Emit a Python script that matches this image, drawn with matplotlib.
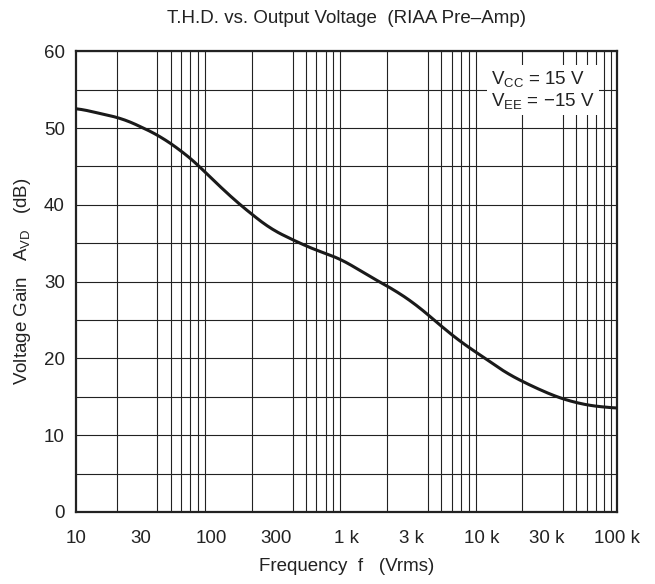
import numpy as np
import matplotlib.pyplot as plt
from matplotlib.ticker import FixedLocator, NullFormatter

plt.rcParams['font.family'] = ['Liberation Sans', 'DejaVu Sans']
plt.rcParams['mathtext.default'] = 'regular'

# curve
freq = [10, 15.9, 22.4, 31.5, 41.3, 61.5, 81.6, 100.7, 158, 272, 453, 636, 896,
        1578, 2218, 3304, 4898, 6918, 10000, 15300, 24000, 38000, 59700, 100000]
gain = [52.6, 51.8, 51.2, 50.0, 49.0, 46.9, 45.05, 43.4, 40.2, 36.9, 34.98, 33.9, 33.0,
        30.4, 29.0, 26.95, 24.35, 22.2, 20.3, 18.05, 16.3, 14.8, 13.9, 13.5]

xticks = [10, 30, 100, 300, 1e3, 3e3, 1e4, 3e4, 1e5]
xlabels = ['10', '30', '100', '300', '1 k', '3 k', '10 k', '30 k', '100 k']
yticks = [0, 10, 20, 30, 40, 50, 60]

# smooth the read points a little in log-f space
lf = np.log10(freq)
lfs = np.linspace(lf[0], lf[-1], 400)
gs = np.interp(lfs, lf, gain)
k = 9
gs_pad = np.concatenate([np.full(k, gs[0]), gs, np.full(k, gs[-1])])
gs = np.convolve(gs_pad, np.ones(2 * k + 1) / (2 * k + 1), mode='same')[k:-k]

fs = 13.5
fig = plt.figure(figsize=(6.55, 5.84), dpi=100)
ax = fig.add_axes([0.116, 0.1233, 0.826, 0.789])

ax.set_xscale('log')
ax.set_xlim(10, 1e5)
ax.set_ylim(0, 60)

minor = [m * 10.0 ** d for d in range(1, 5) for m in range(2, 10)]
ax.xaxis.set_major_locator(FixedLocator(xticks))
ax.xaxis.set_minor_locator(FixedLocator(minor + [100, 1e3, 1e4]))
ax.xaxis.set_minor_formatter(NullFormatter())
ax.set_xticks(xticks)
ax.set_xticklabels(xlabels)
ax.set_yticks(yticks)
ax.set_yticks(np.arange(5, 60, 10), minor=True)

ax.grid(True, which='minor', axis='x', color='#222222', lw=0.8)
ax.grid(False, which='major', axis='x')
ax.grid(True, which='both', axis='y', color='#222222', lw=0.8)
ax.tick_params(which='both', length=0, labelsize=fs, colors='#222222')
ax.tick_params(axis='x', pad=13)
ax.tick_params(axis='y', pad=8)
for s in ax.spines.values():
    s.set_linewidth(1.6)
    s.set_color('#222222')

ax.plot(10 ** lfs, gs, color='#1a1a1a', lw=2.2, zorder=3)

ax.text(0.768, 0.962, 'V$_{CC}$ = 15 V\nV$_{EE}$ = \u221215 V', transform=ax.transAxes,
        ha='left', va='top', fontsize=fs, color='#222222', linespacing=1.15,
        bbox=dict(facecolor='white', edgecolor='none', pad=3), zorder=4)

ax.set_title('T.H.D. vs. Output Voltage  (RIAA Pre\u2013Amp)', fontsize=fs,
             color='#222222', pad=20)
ax.set_xlabel('Frequency  f   (Vrms)', fontsize=fs, color='#222222', labelpad=8)
ax.set_ylabel('Voltage Gain   A$_{VD}$   (dB)', fontsize=fs, color='#222222', labelpad=8)

fig.savefig('out.png', dpi=100)
